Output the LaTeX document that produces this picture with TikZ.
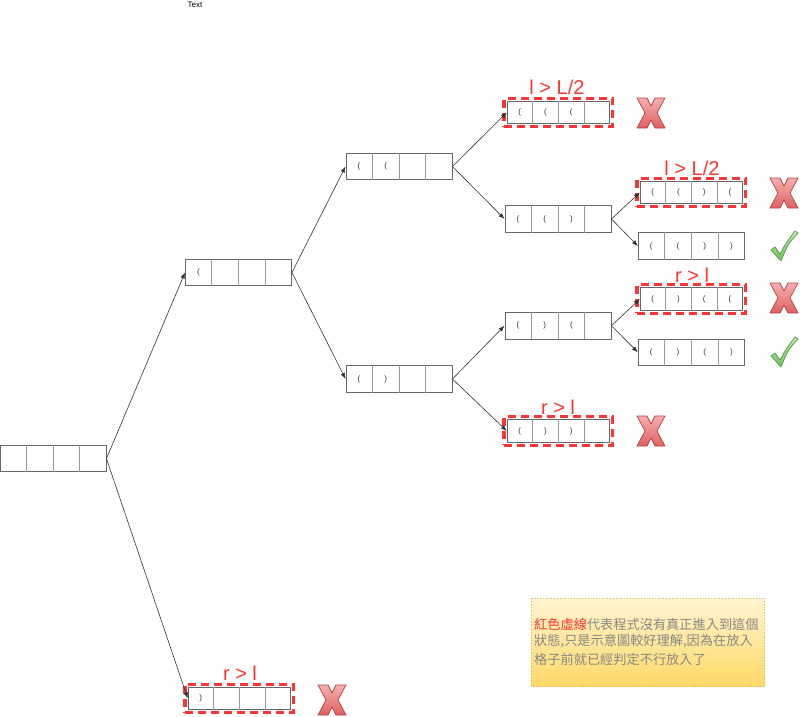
\documentclass[tikz,border=0pt]{standalone}
\usepackage{fontspec}
\setmainfont{Liberation Sans}
\newfontfamily\cjk{Noto Sans CJK TC}
\usetikzlibrary{calc,arrows.meta}
\definecolor{boxline}{HTML}{666666}
\definecolor{divline}{HTML}{999999}
\definecolor{dashred}{HTML}{FF3333}
\definecolor{parcol}{HTML}{333333}
\definecolor{notegray}{HTML}{888888}
\definecolor{notetop}{HTML}{FFF4D0}
\definecolor{notebot}{HTML}{FFD966}
\definecolor{noteborder}{HTML}{D6B656}
\definecolor{xtop}{HTML}{F5B0B0}
\definecolor{xbot}{HTML}{E06060}
\definecolor{xline}{HTML}{B84040}
\definecolor{vtop}{HTML}{C8EAB0}
\definecolor{vbot}{HTML}{6CC060}
\definecolor{vline}{HTML}{4E9A44}
\tikzset{
  cbox/.style={draw=boxline, line width=0.9pt, minimum width=106pt, minimum height=26.5pt, inner sep=0pt, fill=white},
  cboxs/.style={draw=boxline, line width=0.9pt, minimum width=102pt, minimum height=22.5pt, inner sep=0pt, fill=white},
  redframe/.style={draw=dashred, line width=3.4pt, dash pattern=on 8pt off 5pt, inner sep=0pt},
  divider/.style={draw=divline, line width=0.8pt},
  partext/.style={font=\fontsize{8}{8}\selectfont, text=parcol, inner sep=0pt},
  cond/.style={font=\fontsize{20}{20}\selectfont, text=dashred, inner sep=0pt},
  link/.style={draw=black!80, line width=0.6pt, -{Latex[length=6pt,width=4.5pt]}},
  xmark/.style={top color=xtop, bottom color=xbot, draw=xline, line width=0.7pt, line join=round},
  vmark/.style={top color=vtop, bottom color=vbot, draw=vline, line width=0.7pt, line join=round},
}
\newcommand\cellrow[7][cbox]{%
  \node[#1] (#2) at (#3) {};
  \foreach \f in {0.25,0.5,0.75}
    \draw[divider] ($(#2.north west)!\f!(#2.north east)$) -- ($(#2.south west)!\f!(#2.south east)$);
  \node[partext] at ($(#2.west)!0.125!(#2.east)$) {#4};
  \node[partext] at ($(#2.west)!0.375!(#2.east)$) {#5};
  \node[partext] at ($(#2.west)!0.625!(#2.east)$) {#6};
  \node[partext] at ($(#2.west)!0.875!(#2.east)$) {#7};
}
\newcommand\redcellrow[7]{%
  \node[redframe, minimum width=108.5pt, minimum height=28.5pt] (#1R) at (#2) {};
  \cellrow[cboxs]{#1}{#2}{#4}{#5}{#6}{#7}%
}
\newcommand\xmk[1]{%
  \begin{scope}[shift={(#1)}]
    \path[xmark] (-14,-15) -- (-4,-15) -- (0,-7) -- (4,-15) -- (14,-15) -- (6,0) -- (14,15) -- (4,15) -- (0,7) -- (-4,15) -- (-14,15) -- (-6,0) -- cycle;
  \end{scope}}
\newcommand\vmk[1]{%
  \begin{scope}[shift={(#1)}]
    \path[vmark] (-13,4) -- (-9,1) -- (-4,8) .. controls (2,-3) .. (11,-15) -- (14,-13) .. controls (4,-2) .. (-3,15) -- cycle;
  \end{scope}}
\begin{document}
\begin{tikzpicture}[x=1pt,y=-1pt]
\useasboundingbox (0,0) rectangle (800,717);
\node[font=\fontsize{8}{8}\selectfont, inner sep=0pt] (title) at (195,5) {Text};

% boxes
\cellrow{root}{53,458.5}{}{}{}{}
\cellrow{la}{238.5,272.5}{(}{}{}{}
\cellrow{lba}{399,166.5}{(}{(}{}{}
\cellrow{lbb}{399,379}{(}{)}{}{}
\redcellrow{lca}{558.3,112.5}{}{(}{(}{(}{}
\cellrow{lcb}{558,219}{(}{(}{)}{}
\cellrow{lcc}{558,325.7}{(}{)}{(}{}
\redcellrow{lcd}{558.3,431}{}{(}{)}{)}{}
\redcellrow{lda}{691.3,192.5}{}{(}{(}{)}{(}
\cellrow{ldb}{691.3,246}{(}{(}{)}{)}
\redcellrow{ldc}{691.3,299}{}{(}{)}{(}{(}
\cellrow{ldd}{691.3,352.3}{(}{)}{(}{)}
\redcellrow{bot}{239.2,698.5}{}{)}{}{}{}

% connectors
\draw[link] (root.east) -- (la.west);
\draw[link] (root.east) -- (bot.west);
\draw[link] (la.east) -- (lba.west);
\draw[link] (la.east) -- (lbb.west);
\draw[link] (lba.east) -- (lca.west);
\draw[link] (lba.east) -- (lcb.west);
\draw[link] (lbb.east) -- (lcc.west);
\draw[link] (lbb.east) -- (lcd.west);
\draw[link] (lcb.east) -- (lda.west);
\draw[link] (lcb.east) -- (ldb.west);
\draw[link] (lcc.east) -- (ldc.west);
\draw[link] (lcc.east) -- (ldd.west);

% condition labels
\node[cond] (c1) at (557,87) {l > L/2};
\node[cond] (c2) at (692,168) {l > L/2};
\node[cond] (c3) at (692,275) {r > l};
\node[cond] (c4) at (558,407) {r > l};
\node[cond] (c5) at (240,673) {r > l};

% marks
\xmk{651,113}
\xmk{784,193}
\xmk{784,298}
\xmk{651,431}
\xmk{332,700}
\vmk{784,246}
\vmk{784,352}

% note
\path[top color=notetop, bottom color=notebot, draw=noteborder, line width=0.8pt, dotted] (531.7,598.3) rectangle (764.3,686.7);
\begin{scope}[every node/.style={anchor=west, inner sep=0pt, font=\cjk\fontsize{13.2}{13.2}\selectfont, text=notegray}]
\node (n1) at (534,624) {\textcolor{dashred}{紅色虛線}代表程式沒有真正進入到這個};
\node (n2) at (534,641.5) {狀態,只是示意圖較好理解,因為在放入};
\node (n3) at (534,659) {格子前就已經判定不行放入了};
\end{scope}
\end{tikzpicture}
\end{document}
